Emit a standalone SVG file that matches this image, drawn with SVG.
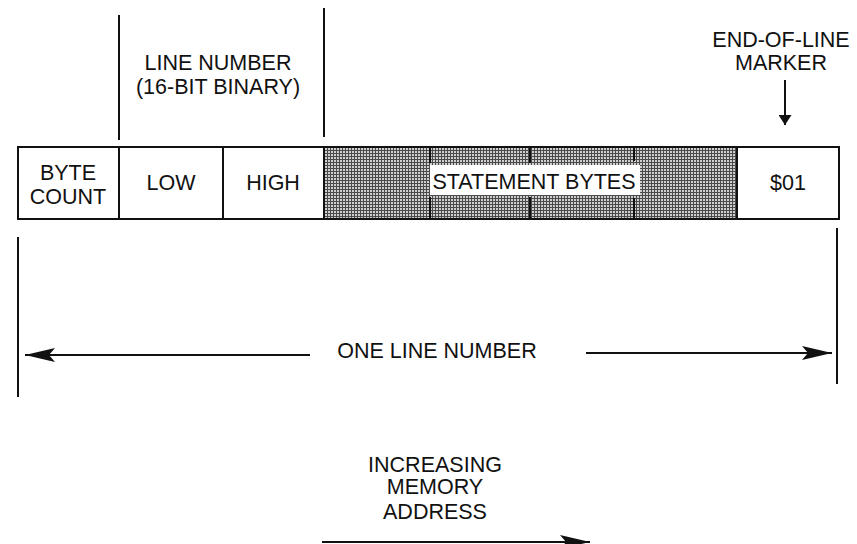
<svg xmlns="http://www.w3.org/2000/svg" width="857" height="544" viewBox="0 0 857 544">
<style>
text{font-family:"Liberation Sans",Arial,sans-serif;font-size:21.5px;fill:#111;text-anchor:middle}
.ln{stroke:#111;stroke-width:2;fill:none}
.cell{fill:#fff;stroke:#111;stroke-width:2}
</style>
<defs>
<pattern id="mesh" width="3" height="3" patternUnits="userSpaceOnUse">
<rect width="3" height="3" fill="#cfcfcf"/>
<rect width="3" height="1" fill="#4a4a4a"/>
<rect width="1" height="3" fill="#4a4a4a"/>
</pattern>
<marker id="ah" viewBox="0 0 30 14" refX="30" refY="7" markerWidth="30" markerHeight="14" markerUnits="userSpaceOnUse" orient="auto">
<path d="M0,0 L30,7 L0,14 L6,7 Z" fill="#111"/>
</marker>
<marker id="ahs" viewBox="0 0 10 13" refX="10" refY="6.5" markerWidth="10" markerHeight="13" markerUnits="userSpaceOnUse" orient="auto">
<path d="M0,0 L10,6.5 L0,13 Z" fill="#111"/>
</marker>
</defs>
<g id="byte-count"><rect class="cell" x="18" y="147" width="101" height="72"/><text x="68" y="180">BYTE</text><text x="68" y="204">COUNT</text></g>
<g id="low"><rect class="cell" x="119" y="147" width="104" height="72"/><text x="171" y="190">LOW</text></g>
<g id="high"><rect class="cell" x="223" y="147" width="101" height="72"/><text x="273" y="190">HIGH</text></g>
<g id="statement-bytes">
<rect x="324" y="147" width="413" height="72" fill="url(#mesh)" stroke="#111" stroke-width="2"/>
<path class="ln" stroke-width="3" d="M430,147V163M430,197V219M530,147V163M530,197V219M634,147V161M634,198V219"/>
<rect x="430" y="165" width="210" height="30" fill="#fff"/>
<text x="534" y="189">STATEMENT BYTES</text>
</g>
<g id="end-marker"><rect class="cell" x="737" y="147" width="102" height="72"/><text x="788" y="190">$01</text></g>
<g id="line-number-label"><text x="218" y="70">LINE NUMBER</text><text x="218" y="94">(16-BIT BINARY)</text></g>
<g id="eol-label"><text x="781" y="47">END-OF-LINE</text><text x="781" y="70">MARKER</text></g>
<g id="one-line-label"><text x="437" y="358">ONE LINE NUMBER</text></g>
<g id="address-label"><text x="435" y="472">INCREASING</text><text x="435" y="494">MEMORY</text><text x="435" y="519">ADDRESS</text></g>
<g id="connectors">
<path class="ln" d="M119,15V140M324,8V137"/>
<path class="ln" d="M18,237V397M837,228V384"/>
<path class="ln" d="M785,80V125" marker-end="url(#ahs)"/>
<path class="ln" d="M310,355H25" marker-end="url(#ah)"/>
<path class="ln" d="M586,353H832" marker-end="url(#ah)"/>
<path class="ln" d="M322,542H590" marker-end="url(#ah)"/>
</g>
</svg>
